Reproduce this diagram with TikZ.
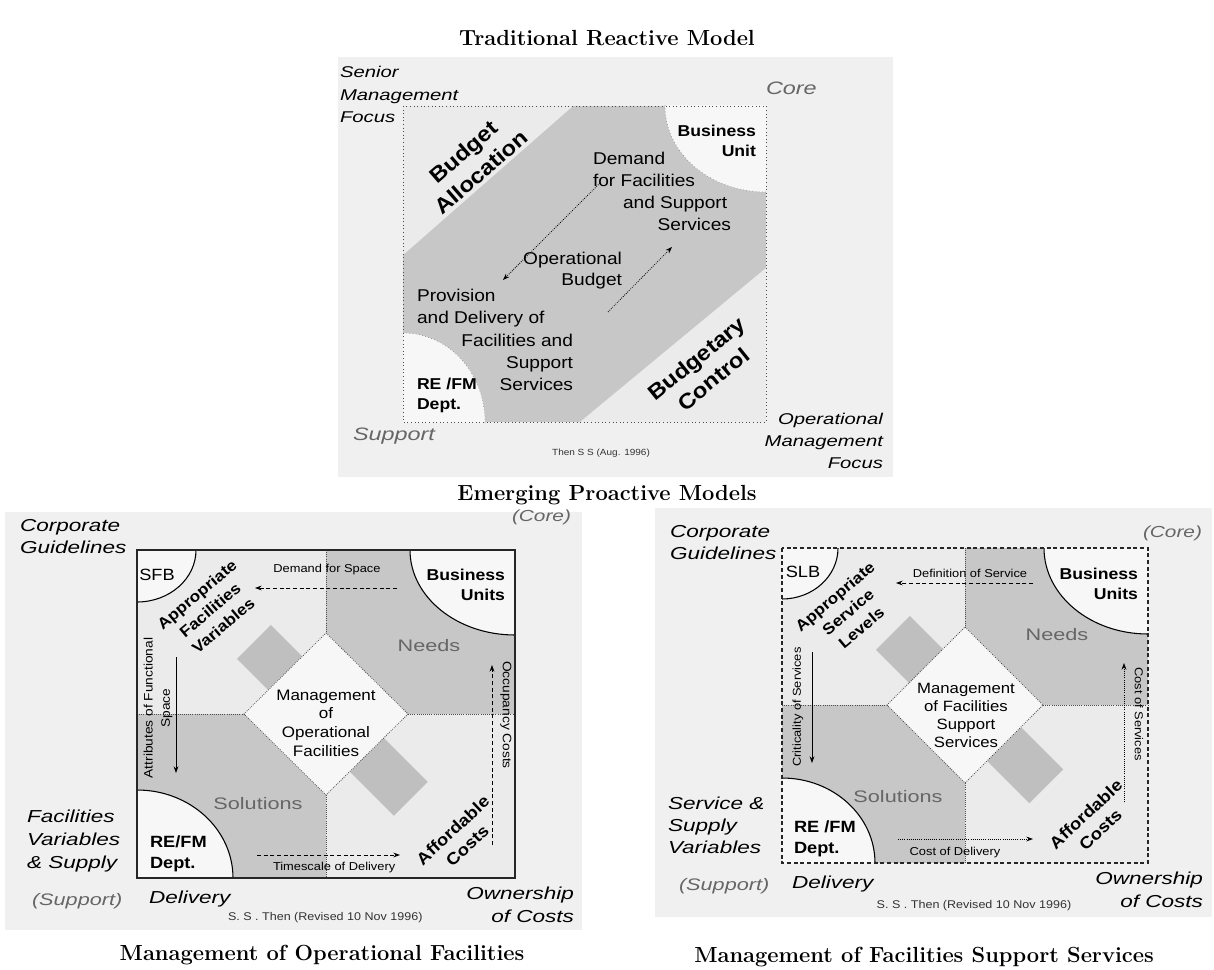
\documentclass[tikz,border=0pt]{standalone}
\usepackage{fontspec}
\usepackage{pdfrender}
\newfontfamily\sfR[FakeStretch=1.12]{Liberation Sans}
\newfontfamily\sfI[FakeStretch=1.3]{Liberation Sans}
\usetikzlibrary{arrows.meta,calc}
\colorlet{bgc}{black!6}
\colorlet{dense}{black!22}
\colorlet{lite}{black!8}
\colorlet{stripc}{black!25}
\colorlet{ghost}{black!60}
\newcommand{\hollow}[1]{\textpdfrender{TextRenderingMode=Stroke,LineWidth=0.35}{#1}}
\tikzset{
  every node/.style={inner sep=0pt,outer sep=0pt},
  ttl/.style={font=\fontsize{16.4}{19}\selectfont\bfseries},
  itT/.style={font=\sfI\itshape\fontsize{11.7}{17.2}\selectfont},
  itB/.style={font=\sfI\itshape\fontsize{13}{16.5}\selectfont},
  ghostit/.style={font=\sfI\itshape\fontsize{13.5}{16}\selectfont,text=ghost},
  ghostup/.style={font=\sfI\fontsize{12.5}{15}\selectfont,text=ghost},
  regT/.style={font=\sfR\fontsize{12.8}{16.3}\selectfont},
  boldT/.style={font=\sfR\bfseries\fontsize{11.8}{15}\selectfont},
  bigrot/.style={font=\sfR\bfseries\fontsize{16}{20}\selectfont,align=center},
  midrot/.style={font=\sfR\bfseries\fontsize{11.6}{15.4}\selectfont,align=center},
  affrot/.style={font=\sfR\bfseries\fontsize{12.4}{16}\selectfont,align=center},
  centre/.style={font=\sfR\fontsize{11.4}{14}\selectfont,align=center},
  tiny/.style={font=\sfR\fontsize{8.6}{13}\selectfont},
  credit/.style={font=\sfR\fontsize{8.4}{10}\selectfont,text=black!80},
  arr/.style={-{Stealth[length=5pt,width=3.6pt]},line width=0.6pt},
  frameL/.style={line width=1pt,black!85},
  frameR/.style={line width=1pt,black!85,densely dashed},
  divl/.style={densely dotted,line width=0.6pt,black!70},
}
\begin{document}
\begin{tikzpicture}[x=0.75pt,y=-0.75pt]
\useasboundingbox (0,0) rectangle (1214,970);
\fill[white] (0,0) rectangle (1214,970);

% ================= TOP: Traditional Reactive Model =================
\node[ttl,anchor=base] (t1) at (607,46) {Traditional Reactive Model};
\fill[bgc] (338,57) rectangle (893,477);
\coordinate (TA) at (403,106);
\coordinate (TC) at (766,422);
\fill[black!22] (TA) rectangle (TC);
\fill[lite] (403,106) -- (573,106) -- (403,255) -- cycle;
\fill[lite] (766,268) -- (766,422) -- (580,422) -- cycle;
\begin{scope}
  \clip (TA) rectangle (TC);
  \fill[black!3] (766,106) ellipse [x radius=101,y radius=86];
  \draw[dotted,black!60] (766,106) ellipse [x radius=101,y radius=86];
  \fill[black!3] (403,422) ellipse [x radius=82,y radius=89];
  \draw[dotted,black!60] (403,422) ellipse [x radius=82,y radius=89];
\end{scope}
\draw[dotted,black!70,line width=0.7pt] (TA) rectangle (TC);
\coordinate (a1s) at (600,183);
\coordinate (a1e) at (503,280);
\coordinate (a2s) at (608,312);
\coordinate (a2e) at (672,247);
\draw[arr,densely dotted] (a1s) -- (a1e);
\draw[arr,densely dotted] (a2s) -- (a2e);

\node[itT,anchor=base west,align=left] (smf) at (340,123) {Senior\\Management\\Focus};
\node[itT,anchor=base east,align=right,font=\sfI\itshape\fontsize{11.7}{16.5}\selectfont] (omf) at (883,468) {Operational\\Management\\Focus};
\node[ghostit,anchor=base west] (core1) at (766,95) {\hollow{Core}};
\node[ghostit,anchor=base west] (sup1) at (353,440) {\hollow{Support}};
\node[font=\sfR\fontsize{6.7}{8}\selectfont,text=black!80] (then1) at (601,453) {Then S S (Aug. 1996)};
\node[bigrot,rotate=41] (ba) at (472,162) {Budget\\Allocation};
\node[bigrot,rotate=39] (bc) at (705,369) {Budgetary\\Control};
\node[boldT,anchor=base east,align=right] (bu1) at (756,157) {Business\\Unit};
\node[boldT,anchor=base west,align=left] (re1) at (417,409) {RE /FM\\Dept.};
\node[regT,anchor=base west,align=left] (dem) at (593,230) {Demand\\for Facilities\\\hspace*{22.5pt}and Support\\\hspace*{48.5pt}Services};
\node[regT,anchor=base east,align=right] (ob) at (622,286) {Operational\\Budget};
\node[regT,anchor=base west,align=left] (prov) at (417,323) {Provision\\and Delivery of};
\node[regT,anchor=base east,align=right] (prov2) at (573,390) {Facilities and\\Support\\Services};

% ================= Emerging title =================
\node[ttl,anchor=base] (t2) at (607,500) {Emerging Proactive Models};

% ================= BOTTOM LEFT =================
\fill[bgc] (5,512) rectangle (582,930);
\coordinate (LA) at (137,550);
\coordinate (LC) at (515,878);
\coordinate (Lc) at (326,714);
\fill[lite] (137,550) rectangle (326,714);
\fill[dense] (326,550) rectangle (515,714);
\fill[dense] (137,714) rectangle (326,878);
\fill[lite] (326,714) rectangle (515,878);
\fill[stripc,rotate around={-45:(Lc)}] (224,690) rectangle (446,738);
\fill[black!3] (326,633) -- (408,714) -- (326,795) -- (244,714) -- cycle;
\draw[divl] (326,633) -- (408,714) -- (326,795) -- (244,714) -- cycle;
\draw[divl] (326,550) -- (326,633) (326,795) -- (326,878) (137,714) -- (244,714) (408,714) -- (515,714);
\begin{scope}
  \clip (LA) rectangle (LC);
  \fill[black!3] (137,550) ellipse [x radius=59,y radius=52];
  \fill[black!3] (515,550) ellipse [x radius=105,y radius=85];
  \fill[black!3] (137,878) ellipse [x radius=96,y radius=88];
  \draw[line width=0.8pt] (137,550) ellipse [x radius=59,y radius=52];
  \draw[line width=0.8pt] (515,550) ellipse [x radius=105,y radius=85];
  \draw[line width=0.8pt] (137,878) ellipse [x radius=96,y radius=88];
\end{scope}
\draw[frameL] (LA) rectangle (LC);

\node[itB,anchor=base west,align=left] (cgL) at (20,553) {Corporate\\Guidelines};
\node[itB,anchor=base west,align=left,font=\sfI\itshape\fontsize{13}{17}\selectfont] (fvs) at (27,868) {Facilities\\Variables\\\& Supply};
\node[ghostit,anchor=base west,font=\sfI\itshape\fontsize{12.5}{15}\selectfont] (supL) at (32,905) {\hollow{(Support)}};
\node[ghostit,anchor=base west,font=\sfI\itshape\fontsize{12}{15}\selectfont] (coreL) at (512,521) {\hollow{(Core)}};
\node[itB,anchor=base west] (delL) at (149,903) {Delivery};
\node[itB,anchor=base east,align=right,font=\sfI\itshape\fontsize{13}{17}\selectfont] (ownL) at (574,922) {Ownership\\of Costs};
\node[credit,anchor=base west] (credL) at (228,920) {S. S . Then (Revised 10 Nov 1996)};
\node[font=\sfR\fontsize{12.2}{14}\selectfont] (sfb) at (157,575) {SFB};
\node[midrot,rotate=40] (afv) at (210,610) {Appropriate\\Facilities\\Variables};
\node[boldT,anchor=base east,align=right] (buL) at (505,600) {Business\\Units};
\node[boldT,anchor=base west,align=left,font=\sfR\bfseries\fontsize{12.2}{15.5}\selectfont] (reL) at (150,868) {RE/FM\\Dept.};
\node[affrot,rotate=43] (acL) at (460,838) {Affordable\\Costs};
\node[centre,anchor=base] (mofL) at (326,756) {Management\\of\\Operational\\Facilities};
\node[ghostup] (needL) at (429,646) {\hollow{Needs}};
\node[ghostup] (solL) at (258,804) {\hollow{Solutions}};
\node[tiny] (dfs) at (327,570) {Demand for Space};
\coordinate (dfs1) at (397,588);
\coordinate (dfs2) at (255,588);
\draw[arr,densely dashed] (dfs1) -- (dfs2);
\node[tiny,rotate=90,align=center,font=\sfR\fontsize{9.2}{13}\selectfont] (afs) at (158,708) {Attributes of Functional\\Space};
\coordinate (afs1) at (176,657);
\coordinate (afs2) at (176,773);
\draw[arr] (afs1) -- (afs2);
\node[tiny,rotate=-90,font=\sfR\fontsize{9.2}{13}\selectfont] (occ) at (506,715) {Occupancy Costs};
\coordinate (occ1) at (492,845);
\coordinate (occ2) at (492,665);
\draw[arr,densely dashed] (occ1) -- (occ2);
\node[tiny,anchor=base west] (tsd) at (273,870) {Timescale of Delivery};
\coordinate (tsd1) at (257,855);
\coordinate (tsd2) at (400,855);
\draw[arr,densely dashed] (tsd1) -- (tsd2);
\node[ttl,anchor=base] (t3) at (322,960) {Management of Operational Facilities};

% ================= BOTTOM RIGHT =================
\fill[bgc] (655,508) rectangle (1212,917);
\coordinate (RA) at (782,548);
\coordinate (RC) at (1148,863);
\coordinate (Rc) at (965,705);
\fill[lite] (782,548) rectangle (965,705);
\fill[dense] (965,548) rectangle (1148,705);
\fill[dense] (782,705) rectangle (965,863);
\fill[lite] (965,705) rectangle (1148,863);
\fill[stripc,rotate around={-45:(Rc)}] (863,681) rectangle (1080,729);
\fill[black!3] (965,627) -- (1043,705) -- (965,783) -- (887,705) -- cycle;
\draw[divl] (965,627) -- (1043,705) -- (965,783) -- (887,705) -- cycle;
\draw[divl] (965,548) -- (965,627) (965,783) -- (965,863) (782,705) -- (887,705) (1043,705) -- (1148,705);
\begin{scope}
  \clip (RA) rectangle (RC);
  \fill[black!3] (782,548) ellipse [x radius=56,y radius=51];
  \fill[black!3] (1148,548) ellipse [x radius=104,y radius=86];
  \fill[black!3] (782,863) ellipse [x radius=93,y radius=85];
  \draw[line width=0.8pt] (782,548) ellipse [x radius=56,y radius=51];
  \draw[line width=0.8pt] (1148,548) ellipse [x radius=104,y radius=86];
  \draw[line width=0.8pt] (782,863) ellipse [x radius=93,y radius=85];
\end{scope}
\draw[frameR] (RA) rectangle (RC);

\node[itB,anchor=base west,align=left] (cgR) at (670,559) {Corporate\\Guidelines};
\node[itB,anchor=base west,align=left,font=\sfI\itshape\fontsize{13}{16.2}\selectfont] (ssv) at (668,853) {Service \&\\Supply\\Variables};
\node[ghostit,anchor=base west,font=\sfI\itshape\fontsize{12.5}{15}\selectfont] (supR) at (679,890) {\hollow{(Support)}};
\node[ghostit,anchor=base west,font=\sfI\itshape\fontsize{12}{15}\selectfont] (coreR) at (1143,537) {\hollow{(Core)}};
\node[itB,anchor=base west] (delR) at (792,888) {Delivery};
\node[itB,anchor=base east,align=right,font=\sfI\itshape\fontsize{13}{17}\selectfont] (ownR) at (1203,907) {Ownership\\of Costs};
\node[credit,anchor=base] (credR) at (974,908) {S. S . Then (Revised 10 Nov 1996)};
\node[font=\sfR\fontsize{12.2}{14}\selectfont] (slb) at (803,572) {SLB};
\node[midrot,rotate=40] (asl) at (848,612) {Appropriate\\Service\\Levels};
\node[boldT,anchor=base east,align=right] (buR) at (1138,599) {Business\\Units};
\node[boldT,anchor=base west,align=left,font=\sfR\bfseries\fontsize{12.2}{15.5}\selectfont] (reR) at (794,853) {RE /FM\\Dept.};
\node[affrot,rotate=43] (acR) at (1093,822) {Affordable\\Costs};
\node[centre,anchor=base,font=\sfR\fontsize{11.2}{13.5}\selectfont] (mfss) at (966,747) {Management\\of Facilities\\Support\\Services};
\node[ghostup] (needR) at (1057,635) {\hollow{Needs}};
\node[ghostup] (solR) at (898,797) {\hollow{Solutions}};
\node[tiny] (dos) at (970,573) {Definition of Service};
\coordinate (dos1) at (1033,583);
\coordinate (dos2) at (896,583);
\draw[arr,densely dashed] (dos1) -- (dos2);
\node[tiny,rotate=90] (cos1) at (798,707) {Criticality of Services};
\coordinate (cr1) at (812,652);
\coordinate (cr2) at (812,763);
\draw[arr] (cr1) -- (cr2);
\node[tiny,rotate=-90] (cosv) at (1139,714) {Cost of Services};
\coordinate (cs1) at (1124,802);
\coordinate (cs2) at (1124,663);
\draw[arr,densely dotted] (cs1) -- (cs2);
\node[tiny,anchor=base] (cod) at (955,855) {Cost of Delivery};
\coordinate (cd1) at (898,839);
\coordinate (cd2) at (1033,839);
\draw[arr,densely dotted] (cd1) -- (cd2);
\node[ttl,anchor=base] (t4) at (924,962) {Management of Facilities Support Services};
\end{tikzpicture}
\end{document}
